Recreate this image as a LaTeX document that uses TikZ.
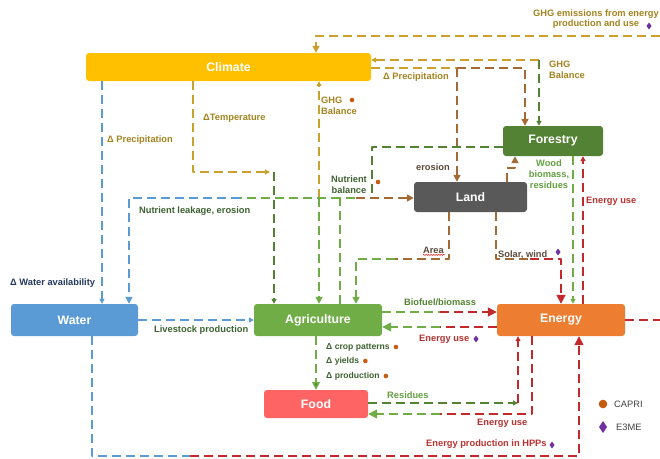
\documentclass[tikz,border=0pt]{standalone}
\usepackage{fontspec}
\setmainfont{Liberation Sans}
\usetikzlibrary{arrows.meta,decorations.pathmorphing}
\definecolor{climate}{HTML}{FFC000}
\definecolor{forestry}{HTML}{548235}
\definecolor{land}{HTML}{595959}
\definecolor{water}{HTML}{5B9BD5}
\definecolor{agri}{HTML}{70AD47}
\definecolor{energy}{HTML}{ED7D31}
\definecolor{food}{HTML}{FF6464}
\definecolor{ylw}{HTML}{C9A12C}
\definecolor{brn}{HTML}{A46A36}
\definecolor{dgrn}{HTML}{548235}
\definecolor{lgrn}{HTML}{70AD47}
\definecolor{blu}{HTML}{5B9BD5}
\definecolor{rd}{HTML}{C3282B}
\definecolor{ylwtxt}{HTML}{A3831F}
\definecolor{navytxt}{HTML}{22385E}
\definecolor{dgrntxt}{HTML}{3D6130}
\definecolor{grntxt}{HTML}{62A042}
\definecolor{redtxt}{HTML}{B8312F}
\definecolor{brntxt}{HTML}{5C4A3A}
\definecolor{capri}{HTML}{C55A11}
\definecolor{e3me}{HTML}{7030A0}
\begin{document}
\begin{tikzpicture}[x=1pt, y=-1pt, line join=round,
		font=\bfseries\fontsize{9.3}{10.8}\selectfont,
		>={Triangle[length=5pt,width=5pt]},
		box/.style={rectangle, rounded corners=3pt, text=white, inner sep=0pt,
			font=\bfseries\fontsize{12.3}{14}\selectfont},
		wire/.style={line width=1.6pt, dash pattern=on 9pt off 5pt},
		midtip/.style={-{Triangle[length=7pt,width=7pt]}},
		bigtip/.style={-{Triangle[length=9pt,width=9pt]}},
		lbl/.style={inner sep=0pt},
		small/.style={font=\bfseries\fontsize{8.6}{10}\selectfont}]
		\useasboundingbox (0,0) rectangle (660,458);
		% boxes
		\node[box, fill=climate, minimum width=285pt, minimum height=28pt] (Climate) at (228.5,67) {Climate};
		\node[box, fill=forestry, minimum width=100pt, minimum height=30pt] (Forestry) at (553,141) {Forestry};
		\node[box, fill=land, minimum width=113pt, minimum height=30pt] (Land) at (470.5,197) {Land};
		\node[box, fill=water, minimum width=127pt, minimum height=32pt] (Water) at (74.5,320) {Water};
		\node[box, fill=agri, minimum width=128pt, minimum height=32pt] (Agriculture) at (318,320) {Agriculture};
		\node[box, fill=energy, minimum width=128pt, minimum height=32pt] (Energy) at (561,320) {Energy};
		\node[box, fill=food, minimum width=104pt, minimum height=28pt] (Food) at (316,404) {Food};
		% bends
		\path
		(102,0) coordinate (pw)
		(193,172) coordinate (t1)
		(270,172) coordinate (t2)
		(274,172) coordinate (t3)
		(319,198) coordinate (g1)
		(539,60) coordinate (g2)
		(525,68) coordinate (p1)
		(457,68) coordinate (p2)
		(507,168) coordinate (l1)
		(515,168) coordinate (l2)
		(573,0) coordinate (wb)
		(583,0) coordinate (eu)
		(372,147) coordinate (n1)
		(372,198) coordinate (n2)
		(340,198) coordinate (n3)
		(129,198) coordinate (n4)
		(240,198) coordinate (n5)
		(356,198) coordinate (n6)
		(449,259) coordinate (a1)
		(356,259) coordinate (a2)
		(395,259) coordinate (a3)
		(496,259) coordinate (s1)
		(561,259) coordinate (s2)
		(530,259) coordinate (s3)
		(440,312) coordinate (bf)
		(440,327) coordinate (ea)
		(316,0) coordinate (fd)
		(518,403) coordinate (r1)
		(532,414) coordinate (e1)
		(440,414) coordinate (e2)
		(92,456) coordinate (h1)
		(190,456) coordinate (h2)
		(579,456) coordinate (h3)
		(660,320) coordinate (o1)
		(660,36) coordinate (o2)
		(316,36) coordinate (o3)
		;
		% climate links
		\draw[wire, blu, ->] (Climate.south -| pw) -- (Water.north -| pw);
		\draw[wire, ylw, ->] (Climate.south -| t1) -- (t1) -- (t2);
		\draw[wire, dgrn, ->] (t3) -- (Agriculture.north -| t3);
		\draw[wire, ylw, ->] (g1) -- (Climate.south -| g1);
		\draw[wire, lgrn, midtip] (g1) -- (Agriculture.north -| g1);
		\draw[wire, ylw, ->] (g2) -- (Climate.east |- g2);
		\draw[wire, dgrn, ->] (g2) -- (Forestry.north -| g2);
		\draw[wire, ylw] (Climate.east |- p2) -- (p2);
		\draw[wire, brn, midtip] (p2) -- (p1) -- (Forestry.north -| p1);
		\draw[wire, brn, midtip] (p2) -- (Land.north -| p2);
		\draw[wire, ylw, midtip] (o2) -- (o3) -- (Climate.north -| o3);
		\draw[wire, rd] (Energy.east) -- (o1);
		% land and forestry
		\draw[wire, brn, midtip] (Land.north -| l1) -- (l1) -- (l2) -- (Forestry.south -| l2);
		\draw[wire, lgrn, ->] (Forestry.south -| wb) -- (Energy.north -| wb);
		\draw[wire, rd, ->] (Energy.north -| eu) -- (Forestry.south -| eu);
		\draw[wire, dgrn] (Forestry.west |- n1) -- (n1) -- (n2);
		\draw[wire, lgrn] (Agriculture.north -| n3) -- (n3) -- (n6);
		\draw[wire, brn, midtip] (n6) -- (Land.west |- n6);
		\draw[wire, lgrn] (n3) -- (n5);
		\draw[wire, blu, midtip] (n5) -- (n4) -- (Water.north -| n4);
		\draw[wire, brn] (Land.south -| a1) -- (a1) -- (a3);
		\draw[wire, lgrn, midtip] (a3) -- (a2) -- (Agriculture.north -| a2);
		\draw[wire, brn] (Land.south -| s1) -- (s1) -- (s3);
		\draw[wire, rd, bigtip] (s3) -- (s2) -- (Energy.north -| s2);
		% agriculture, food, energy
		\draw[wire, blu, ->] (Water.east) -- (Agriculture.west);
		\draw[wire, lgrn] (Agriculture.east |- bf) -- (bf);
		\draw[wire, rd, bigtip] (bf) -- (Energy.west |- bf);
		\draw[wire, rd] (Energy.west |- ea) -- (ea);
		\draw[wire, lgrn, bigtip] (ea) -- (Agriculture.east |- ea);
		\draw[wire, lgrn, -{Triangle[length=8pt,width=8pt,fill=dgrn]}] (Agriculture.south -| fd) -- (Food.north -| fd);
		\draw[wire, dgrn, ->] (Food.east |- r1) -- (r1);
		\draw[wire, rd, ->] (r1) -- (Energy.south -| r1);
		\draw[wire, rd] (Energy.south -| e1) -- (e1) -- (e2);
		\draw[wire, lgrn, bigtip] (e2) -- (Food.east |- e2);
		\draw[wire, blu] (Water.south -| h1) -- (h1) -- (h2);
		\draw[wire, rd, bigtip] (h2) -- (h3) -- (Energy.south -| h3);
		% labels
		\node[lbl, ylwtxt, align=center] (lEmis) at (596,19) {GHG emissions from energy\\production and use};
		\node[lbl, ylwtxt, anchor=west] (lPrecW) at (107,140) {Δ Precipitation};
		\node[lbl, navytxt, anchor=west] (lAvail) at (10,283) {Δ Water availability};
		\node[lbl, ylwtxt, anchor=west] (lTemp) at (203,118) {ΔTemperature};
		\node[lbl, ylwtxt, anchor=west, align=left] (lGhgA) at (321,105.5) {GHG\\Balance};
		\node[lbl, ylwtxt, anchor=west, align=left] (lGhgF) at (549,69.5) {GHG\\Balance};
		\node[lbl, ylwtxt, anchor=west] (lPrecF) at (383,77) {Δ Precipitation};
		\node[lbl, brntxt, anchor=west] (lEros) at (416,167) {erosion};
		\node[lbl, dgrntxt, align=center] (lNutr) at (349,184.5) {Nutrient\\balance};
		\node[lbl, dgrntxt, anchor=west] (lLeak) at (139,211) {Nutrient leakage, erosion};
		\node[lbl, grntxt, align=center] (lWood) at (549,174) {Wood\\biomass,\\residues};
		\node[lbl, redtxt, anchor=west] (lUseF) at (586,201) {Energy use};
		\node[lbl, brntxt, anchor=east] (lArea) at (444,250) {Area};
		\node[lbl, brntxt, anchor=west] (lSolar) at (498,255) {Solar, wind};
		\node[lbl, dgrn] (lBio) at (440,302) {Biofuel/biomass};
		\node[lbl, redtxt, anchor=west] (lUseA) at (419,339) {Energy use};
		\node[lbl, dgrntxt, anchor=west] (lLive) at (154,330) {Livestock production};
		\node[lbl, small, dgrntxt, anchor=west] (lCrop) at (326,347) {Δ crop patterns};
		\node[lbl, small, dgrntxt, anchor=west] (lYield) at (326,361) {Δ yields};
		\node[lbl, small, dgrntxt, anchor=west] (lProd) at (326,376) {Δ production};
		\node[lbl, grntxt, anchor=west] (lRes) at (387,395) {Residues};
		\node[lbl, redtxt, anchor=west] (lUseD) at (477,423) {Energy use};
		\node[lbl, redtxt, anchor=west] (lHpp) at (426,444) {Energy production in HPPs};
		\draw[red, line width=0.5pt, decorate, decoration={snake, amplitude=0.6pt, segment length=2.5pt}]
		(lArea.south west) ++(0,1.5) -- ++(22,0);
		% model marks
		\foreach \x/\y in {352/100, 378/182}{
			\fill[capri] (\x,\y) circle (2.3pt);
		}
		\foreach \n in {lCrop, lYield, lProd}{
			\fill[capri] ([xshift=6pt]\n.east) circle (2.3pt);
		}
		\foreach \x/\y in {649/26, 558/252, 476/339, 552/445}{
			\fill[e3me] (\x,\y) +(0,-3.5) -- +(2.5,0) -- +(0,3.5) -- +(-2.5,0) -- cycle;
		}
		% legend
		\fill[capri] (603,404) circle (4.3pt);
		\fill[e3me] (603,427) +(0,-6) -- +(4,0) -- +(0,6) -- +(-4,0) -- cycle;
		\node[lbl, anchor=west, text=black!75, font=\fontsize{9.3}{11}\selectfont] (lCapri) at (614,404) {CAPRI};
		\node[lbl, anchor=west, text=black!75, font=\fontsize{9.3}{11}\selectfont] (lE3me) at (616,427) {E3ME};
	\end{tikzpicture}
\end{document}
